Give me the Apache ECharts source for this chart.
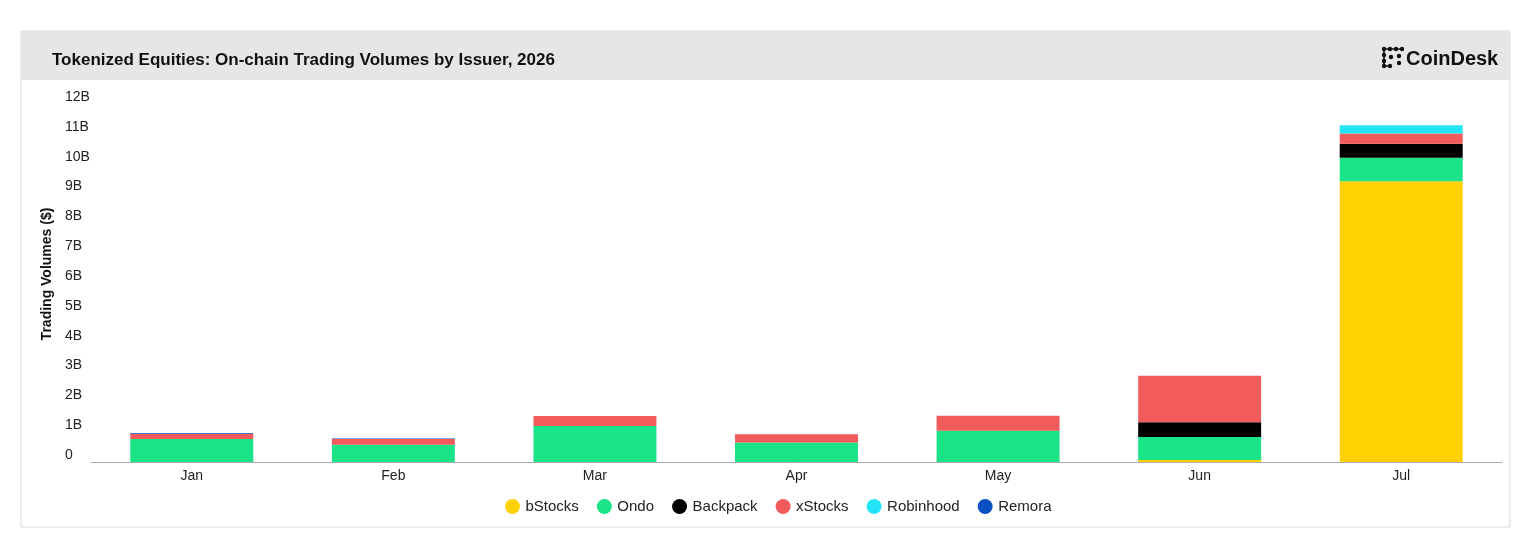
<!DOCTYPE html>
<html>
<head>
<meta charset="utf-8">
<script src="https://cdn.jsdelivr.net/npm/echarts@6/dist/echarts.min.js"></script>
<style>
html,body{margin:0;padding:0;background:#fff;}
#chart{width:1534px;height:542px;}
</style>
</head>
<body>
<div id="chart"></div>
<script>
const months = ['Jan','Feb','Mar','Apr','May','Jun','Jul'];
const bStocks   = [0, 0, 0, 0, 0, 0.07, 9.41];
const ondo      = [0.77, 0.58, 1.21, 0.65, 1.05, 0.77, 0.79];
const backpack  = [0, 0, 0, 0, 0, 0.49, 0.47];
const xStocks   = [0.18, 0.19, 0.33, 0.28, 0.50, 1.56, 0.34];
const robinhood = [0, 0, 0, 0, 0, 0, 0.28];
const remora    = [0.02, 0.02, 0, 0, 0, 0, 0];
const seriesNames = ['bStocks','Ondo','Backpack','xStocks','Robinhood','Remora'];
const seriesColors = ['#FFD100','#1AE388','#000000','#F15B5B','#24E5F8','#0B4FC2'];
const seriesData = [bStocks, ondo, backpack, xStocks, robinhood, remora];

const FONT = '"Liberation Sans", Arial, sans-serif';
const chart = echarts.init(document.getElementById('chart'));

function logoDots() {
  const els = [];
  const c = '#111';
  const pts = [[1384,49],[1390,49],[1396,49],[1402,49],[1384,55],[1384,61],[1384,66],[1390,66],[1391,57],[1399,56],[1399,63]];
  els.push({type:'polyline', shape:{points:[[1402,49],[1384,49],[1384,66],[1390,66]]}, style:{stroke:c, lineWidth:1.6, fill:null}});
  pts.forEach(p => els.push({type:'circle', shape:{cx:p[0], cy:p[1], r:2.2}, style:{fill:c}}));
  return els;
}

chart.setOption({
  animation: false,
  textStyle: {fontFamily: FONT},
  graphic: [
    {type:'rect', shape:{x:21, y:31, width:1489, height:496}, style:{fill:null, stroke:'#dcdcdc', lineWidth:1}},
    {type:'rect', shape:{x:21, y:31, width:1489, height:49}, style:{fill:'#e6e6e6'}},
    ...logoDots(),
    {type:'text', x:1406, y:59, style:{text:'CoinDesk', fill:'#111', font:'bold 20px ' + FONT, textVerticalAlign:'middle'}}
  ],
  title: {
    text: 'Tokenized Equities: On-chain Trading Volumes by Issuer, 2026',
    left: 47, top: 47,
    textStyle: {fontFamily: FONT, fontSize: 17, fontWeight: 'bold', color: '#111'}
  },
  legend: {
    left: 500, top: 494,
    icon: 'circle', itemWidth: 16, itemHeight: 15, itemGap: 18,
    textStyle: {fontFamily: FONT, fontSize: 15, color: '#222'},
    data: seriesNames
  },
  grid: {left: 91, right: 32, top: 104, bottom: 80},
  xAxis: {
    type: 'category', data: months,
    axisLine: {lineStyle: {color: '#aaaaaa'}},
    axisTick: {show: false},
    axisLabel: {fontFamily: FONT, fontSize: 14, color: '#222', margin: 7}
  },
  yAxis: {
    type: 'value', min: 0, max: 12, interval: 1,
    name: 'Trading Volumes ($)', nameLocation: 'middle', nameGap: 31, nameRotate: 90,
    nameTextStyle: {fontFamily: FONT, fontSize: 14, fontWeight: 'bold', color: '#111', padding: [0,0,0,18]},
    axisLine: {show: false}, axisTick: {show: false}, splitLine: {show: false},
    axisLabel: {
      fontFamily: FONT, fontSize: 14, color: '#222', align: 'left', margin: 26,
      verticalAlign: 'bottom',
      formatter: v => v === 0 ? '0' : v + 'B'
    }
  },
  series: seriesNames.map((n, i) => ({
    name: n, type: 'bar', stack: 'total', barWidth: '61%',
    itemStyle: {color: seriesColors[i]},
    data: seriesData[i]
  }))
});
</script>
</body>
</html>
